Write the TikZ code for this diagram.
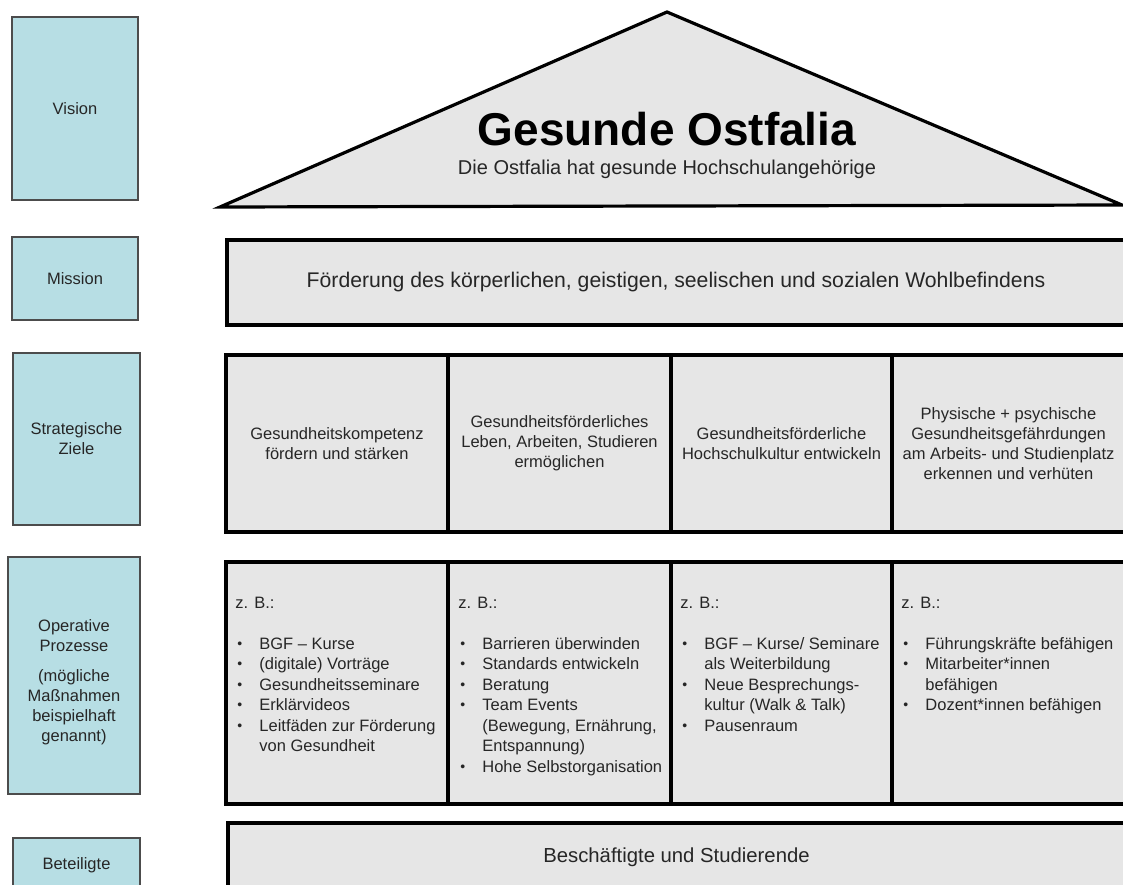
\documentclass[tikz,border=0pt]{standalone}
\usepackage{fontspec}
\setmainfont{Liberation Sans}
\definecolor{levelblue}{RGB}{183,222,228}
\definecolor{housegray}{RGB}{230,230,230}
\newcommand{\bul}{\makebox[24pt][l]{\hspace{2pt}\raisebox{0.8pt}{\fontsize{14}{14}\selectfont\textbullet}}}
\newcommand{\ind}{\makebox[24pt]{}}

\begin{document}
\begin{tikzpicture}[x=1pt,y=-1pt,
	levelbox/.style={draw=black!70,line width=1.2pt,fill=levelblue,align=center,inner sep=0pt,font=\fontsize{16.5}{20}\selectfont,text=black!85},
	cell/.style={draw=black,line width=3.6pt,fill=housegray,inner sep=0pt},
	smalltext/.style={font=\fontsize{16.5}{20}\selectfont,text=black!85,align=center},
	listtext/.style={font=\fontsize{16.5}{20.5}\selectfont,text=black!85,align=left,inner sep=0pt,anchor=north west},
	bigtext/.style={font=\fontsize{20.3}{24}\selectfont,text=black!85}]
		\useasboundingbox (0,0) rectangle (1123,885);
		\clip (0,0) rectangle (1123,885);
		% left column
		\node[levelbox,minimum width=126,minimum height=183] (vision) at (75,108.5) {Vision};
		\node[levelbox,minimum width=126,minimum height=83] (mission) at (75,278.5) {Mission};
		\node[levelbox,minimum width=127,minimum height=172] (ziele) at (76.5,439) {Strategische\\Ziele};
		\node[levelbox,minimum width=132,minimum height=237] (prozesse) at (74,675.5) {};
		\node[smalltext,inner sep=0pt] (prozessetext) at (74,682) {Operative\\Prozesse\\[10pt](mögliche\\Maßnahmen\\beispielhaft\\genannt)};
		\node[levelbox,minimum width=127,minimum height=54] (beteiligte) at (76.5,865) {Beteiligte};
		% roof
		\draw[cell,line width=3.2pt] (220,207) -- (667,12) -- (1122,205) -- cycle;
		\node[font=\fontsize{46}{50}\selectfont\bfseries,anchor=base] (titel) at (667,146) {Gesunde Ostfalia};
		\node[bigtext,font=\fontsize{20}{24}\selectfont,anchor=base] (untertitel) at (667,175) {Die Ostfalia hat gesunde Hochschulangehörige};
		% mission
		\node[cell,bigtext,font=\fontsize{21.2}{24}\selectfont,minimum width=898,minimum height=85] (wohl) at (676,282.5) {Förderung des körperlichen, geistigen, seelischen und sozialen Wohlbefindens};
		% strategische Ziele
		\node[cell,smalltext,minimum width=222,minimum height=177] (z1) at (337,443.5) {Gesundheitskompetenz\\fördern und stärken};
		\node[cell,smalltext,minimum width=223,minimum height=177] (z2) at (559.5,443.5) {Gesundheitsförderliches\\Leben, Arbeiten, Studieren\\ermöglichen};
		\node[cell,smalltext,minimum width=221,minimum height=177] (z3) at (781.5,443.5) {Gesundheitsförderliche\\Hochschulkultur entwickeln};
		\node[cell,smalltext,minimum width=233,minimum height=177] (z4) at (1008.5,443.5) {Physische + psychische\\Gesundheitsgefährdungen\\am Arbeits- und Studienplatz\\erkennen und verhüten};
		% operative Prozesse
		\node[cell,minimum width=222,minimum height=242] (p1) at (337,683) {};
		\node[cell,minimum width=223,minimum height=242] (p2) at (559.5,683) {};
		\node[cell,minimum width=221,minimum height=242] (p3) at (781.5,683) {};
		\node[cell,minimum width=233,minimum height=242] (p4) at (1008.5,683) {};
		\node[listtext] (m1) at ([shift={(11,36.5)}]p1.north west) {z. B.:\\[20.5pt]\bul BGF – Kurse\\\bul (digitale) Vorträge\\\bul Gesundheitsseminare\\\bul Erklärvideos\\\bul Leitfäden zur Förderung\\\ind von Gesundheit};
		\node[listtext] (m2) at ([shift={(12,36.5)}]p2.north west) {z. B.:\\[20.5pt]\bul Barrieren überwinden\\\bul Standards entwickeln\\\bul Beratung\\\bul Team Events\\\ind (Bewegung, Ernährung,\\\ind Entspannung)\\\bul Hohe Selbstorganisation};
		\node[listtext] (m3) at ([shift={(11,36.5)}]p3.north west) {z. B.:\\[20.5pt]\bul BGF – Kurse/ Seminare\\\ind als Weiterbildung\\\bul Neue Besprechungs-\\\ind kultur (Walk \& Talk)\\\bul Pausenraum};
		\node[listtext] (m4) at ([shift={(11,36.5)}]p4.north west) {z. B.:\\[20.5pt]\bul Führungskräfte befähigen\\\bul Mitarbeiter*innen\\\ind befähigen\\\bul Dozent*innen befähigen};
		% Beteiligte
		\node[cell,bigtext,minimum width=897,minimum height=68] (leute) at (676.5,857) {Beschäftigte und Studierende};
	\end{tikzpicture}
\end{document}
